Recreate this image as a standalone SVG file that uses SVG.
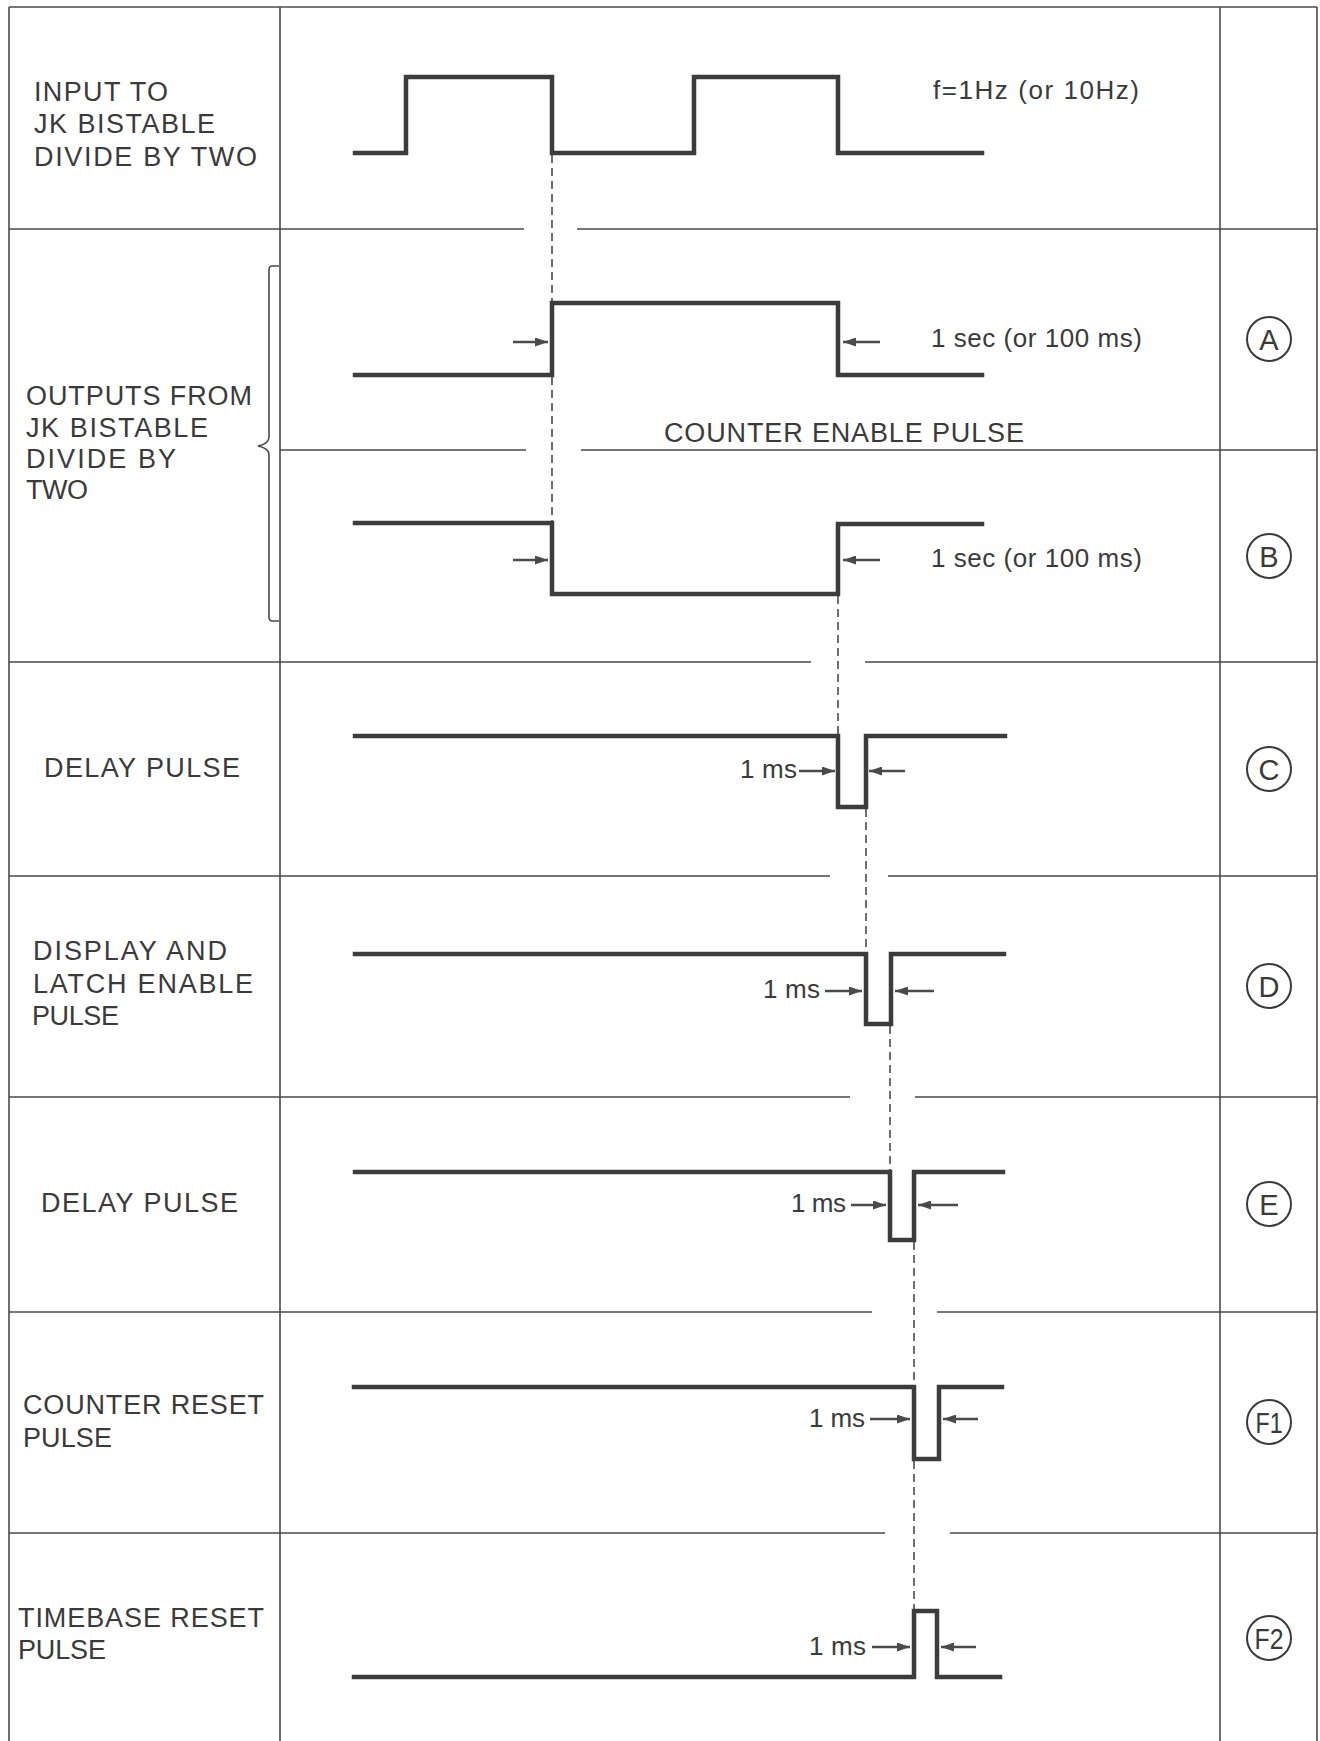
<svg xmlns="http://www.w3.org/2000/svg" width="1320" height="1741" viewBox="0 0 1320 1741">
<style>
.grid{stroke:#4a4a4a;stroke-width:1.6;fill:none}
.wave{stroke:#3c3c3c;stroke-width:4.5;fill:none;stroke-linejoin:miter;stroke-linecap:square}
.dash{stroke:#4a4a4a;stroke-width:1.6;stroke-dasharray:8 5;fill:none}
.arr{stroke:#4a4a4a;stroke-width:2.6;fill:none;marker-end:url(#ah)}
.lbl{font-family:"Liberation Sans",Arial,sans-serif;font-size:27px;fill:#3a3a3a}
.val{font-family:"Liberation Sans",Arial,sans-serif;font-size:26px;fill:#3a3a3a}
.circ{stroke:#3a3a3a;stroke-width:2;fill:none}
.cl{font-family:"Liberation Sans",Arial,sans-serif;font-size:29px;fill:#3a3a3a;text-anchor:middle}
</style>
<defs>
<marker id="ah" viewBox="0 0 13 9" refX="13" refY="4.5" markerWidth="13" markerHeight="9" markerUnits="userSpaceOnUse" orient="auto">
<path d="M0,0 L13,4.5 L0,9 z" fill="#4a4a4a"/>
</marker>
</defs>
<rect x="0" y="0" width="1320" height="1741" fill="#ffffff"/>

<g id="grid">
<line class="grid" x1="9" y1="7" x2="1317" y2="7"/>
<line class="grid" x1="9" y1="7" x2="9" y2="1741"/>
<line class="grid" x1="280" y1="7" x2="280" y2="1741"/>
<line class="grid" x1="1220" y1="7" x2="1220" y2="1741"/>
<line class="grid" x1="1317" y1="7" x2="1317" y2="1741"/>
<path class="grid" d="M9 229 H524 M577 229 H1317"/>
<path class="grid" d="M280 450 H526 M581 450 H1317"/>
<path class="grid" d="M9 662 H811 M865 662 H1317"/>
<path class="grid" d="M9 876 H830 M888 876 H1317"/>
<path class="grid" d="M9 1097 H850 M915 1097 H1317"/>
<path class="grid" d="M9 1312 H872 M937 1312 H1317"/>
<path class="grid" d="M9 1533 H885 M950 1533 H1317"/>
<path class="grid" d="M279 266 H272 Q269 266 269 270 V437 Q269 444 258 446 Q269 448 269 455 V617 Q269 621 272 621 H279"/>
</g>

<g id="connectors">
<path class="dash" d="M552 155 V303 M552 377 V523"/>
<path class="dash" d="M838 596 V736"/>
<path class="dash" d="M866 809 V954"/>
<path class="dash" d="M890 1026 V1172"/>
<path class="dash" d="M914 1242 V1387"/>
<path class="dash" d="M914 1461 V1611"/>
</g>

<g id="row-input">
<text class="lbl" x="34" y="101" textLength="134" lengthAdjust="spacing">INPUT TO</text>
<text class="lbl" x="34" y="133" textLength="181" lengthAdjust="spacing">JK BISTABLE</text>
<text class="lbl" x="34" y="166" textLength="223" lengthAdjust="spacing">DIVIDE BY TWO</text>
<path class="wave" d="M355 153 H406 V77 H552 V153 H694 V77 H838 V153 H982"/>
<text class="val" x="933" y="99" textLength="206" lengthAdjust="spacing">f=1Hz (or 10Hz)</text>
</g>

<g id="label-outputs">
<text class="lbl" x="26" y="405" textLength="226" lengthAdjust="spacing">OUTPUTS FROM</text>
<text class="lbl" x="26" y="437" textLength="182" lengthAdjust="spacing">JK BISTABLE</text>
<text class="lbl" x="26" y="468" textLength="150" lengthAdjust="spacing">DIVIDE BY</text>
<text class="lbl" x="26" y="499" textLength="62" lengthAdjust="spacing">TWO</text>
</g>

<g id="row-A">
<path class="wave" d="M355 375 H552 V303 H838 V375 H982"/>
<line class="arr" x1="513" y1="342" x2="548" y2="342"/>
<line class="arr" x1="880" y1="342" x2="843" y2="342"/>
<text class="val" x="931" y="347" textLength="211" lengthAdjust="spacing">1 sec (or 100 ms)</text>
<text class="lbl" x="664" y="442" textLength="360" lengthAdjust="spacing">COUNTER ENABLE PULSE</text>
<circle class="circ" cx="1269" cy="339" r="22"/>
<text class="cl" x="1269" y="349.5">A</text>
</g>

<g id="row-B">
<path class="wave" d="M355 523 H552 V594 H838 V524 H982"/>
<line class="arr" x1="513" y1="560" x2="548" y2="560"/>
<line class="arr" x1="880" y1="560" x2="843" y2="560"/>
<text class="val" x="931" y="567" textLength="211" lengthAdjust="spacing">1 sec (or 100 ms)</text>
<circle class="circ" cx="1269" cy="556" r="22"/>
<text class="cl" x="1269" y="566.5">B</text>
</g>

<g id="row-C">
<text class="lbl" x="44" y="777" textLength="196" lengthAdjust="spacing">DELAY PULSE</text>
<path class="wave" d="M355 736 H838 V807 H866 V736 H1005"/>
<text class="val" x="740" y="778" textLength="57" lengthAdjust="spacing">1 ms</text>
<line class="arr" x1="799" y1="771" x2="835" y2="771"/>
<line class="arr" x1="905" y1="771" x2="869" y2="771"/>
<circle class="circ" cx="1269" cy="769" r="22"/>
<text class="cl" x="1269" y="779.5">C</text>
</g>

<g id="row-D">
<text class="lbl" x="33" y="960" textLength="194" lengthAdjust="spacing">DISPLAY AND</text>
<text class="lbl" x="33" y="993" textLength="220" lengthAdjust="spacing">LATCH ENABLE</text>
<text class="lbl" x="32" y="1025" textLength="87" lengthAdjust="spacing">PULSE</text>
<path class="wave" d="M355 954 H866 V1024 H891 V954 H1004"/>
<text class="val" x="763" y="998" textLength="57" lengthAdjust="spacing">1 ms</text>
<line class="arr" x1="825" y1="991" x2="862" y2="991"/>
<line class="arr" x1="934" y1="991" x2="895" y2="991"/>
<circle class="circ" cx="1269" cy="986" r="22"/>
<text class="cl" x="1269" y="996.5">D</text>
</g>

<g id="row-E">
<text class="lbl" x="41" y="1212" textLength="197" lengthAdjust="spacing">DELAY PULSE</text>
<path class="wave" d="M355 1172 H890 V1240 H914 V1172 H1003"/>
<text class="val" x="791" y="1212" textLength="55" lengthAdjust="spacing">1 ms</text>
<line class="arr" x1="851" y1="1205" x2="886" y2="1205"/>
<line class="arr" x1="958" y1="1205" x2="918" y2="1205"/>
<circle class="circ" cx="1269" cy="1204" r="22"/>
<text class="cl" x="1269" y="1214.5">E</text>
</g>

<g id="row-F1">
<text class="lbl" x="23" y="1414" textLength="241" lengthAdjust="spacing">COUNTER RESET</text>
<text class="lbl" x="23" y="1447" textLength="89" lengthAdjust="spacing">PULSE</text>
<path class="wave" d="M354 1387 H914 V1459 H939 V1387 H1002"/>
<text class="val" x="809" y="1427" textLength="56" lengthAdjust="spacing">1 ms</text>
<line class="arr" x1="870" y1="1419" x2="910" y2="1419"/>
<line class="arr" x1="978" y1="1419" x2="943" y2="1419"/>
<circle class="circ" cx="1269" cy="1422" r="22"/>
<text class="cl" x="1269" y="1432.5" textLength="27" lengthAdjust="spacingAndGlyphs">F1</text>
</g>

<g id="row-F2">
<text class="lbl" x="18" y="1627" textLength="246" lengthAdjust="spacing">TIMEBASE RESET</text>
<text class="lbl" x="18" y="1659" textLength="88" lengthAdjust="spacing">PULSE</text>
<path class="wave" d="M354 1677 H914 V1611 H937 V1677 H1000"/>
<text class="val" x="809" y="1655" textLength="57" lengthAdjust="spacing">1 ms</text>
<line class="arr" x1="872" y1="1647" x2="910" y2="1647"/>
<line class="arr" x1="976" y1="1647" x2="941" y2="1647"/>
<circle class="circ" cx="1269" cy="1638" r="22"/>
<text class="cl" x="1269" y="1648.5" textLength="29" lengthAdjust="spacingAndGlyphs">F2</text>
</g>
</svg>
